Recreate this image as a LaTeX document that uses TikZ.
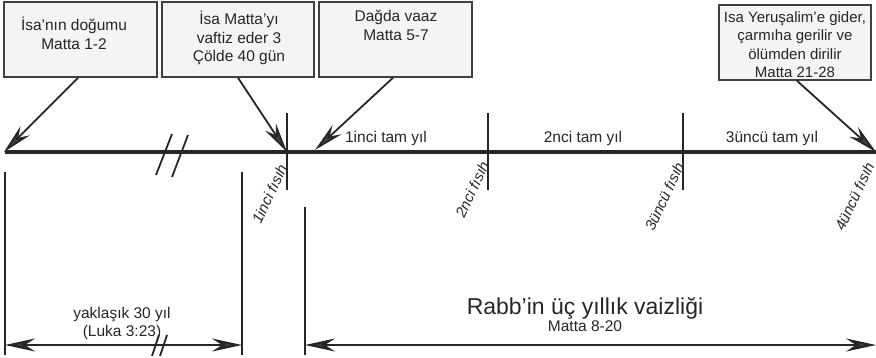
\documentclass[tikz,border=0pt]{standalone}
\usepackage{fontspec}
\setmainfont{Liberation Sans}
\usetikzlibrary{arrows.meta}
\begin{document}
\begin{tikzpicture}[x=1pt,y=-1pt,
  box/.style={draw=black!75, line width=1.6pt, fill=gray!9, inner sep=0pt},
  txt/.style={font=\fontsize{15.5}{18.5}\selectfont, align=center, inner sep=0pt, text=black!85},
  small/.style={font=\fontsize{15}{16}\selectfont\itshape, inner sep=0pt, text=black!85},
  big/.style={font=\fontsize{23}{26}\selectfont, inner sep=0pt, text=black!85},
  tipd/.style={-{Stealth[length=30pt,width=13pt,inset=10pt,fill=black!75]}},
  tipdd/.style={{Stealth[length=30pt,width=13pt,inset=10pt,fill=black!75]}-{Stealth[length=30pt,width=13pt,inset=10pt,fill=black!75]}},
  pointer/.style={tipd, draw=black!85, line width=1.8pt},
  mainline/.style={draw=black!85, line width=4.5pt},
  tick/.style={draw=black!85, line width=1.8pt},
  dim/.style={draw=black!85, line width=2.2pt},
  slash/.style={draw=black!85, line width=1.8pt}]
\useasboundingbox (0,0) rectangle (876,358);

% boxes
\node[box, minimum width=153pt, minimum height=75pt] (b1) at (80.5,39.5) {};
\node[box, minimum width=152pt, minimum height=75pt] (b2) at (238,39.5) {};
\node[box, minimum width=153pt, minimum height=75pt] (b3) at (395.5,39.5) {};
\node[box, minimum width=152pt, minimum height=75pt] (b4) at (795,42.5) {};

\node[txt, anchor=north] (t1) at (74,17) {İsa'nın doğumu\\Matta 1-2};
\node[txt, anchor=north] (t2) at (239,11) {İsa Matta'yı\\vaftiz eder 3\\Çölde 40 gün};
\node[txt, anchor=north] (t3) at (396,10) {Dağda vaaz\\Matta 5-7};
\node[txt, anchor=north, font=\fontsize{15}{18.5}\selectfont] (t4) at (795,11) {Isa Yeruşalim'e gider,\\çarmıha gerilir ve\\ölümden dirilir\\Matta 21-28};

% timeline
\coordinate (L) at (5,152);
\coordinate (R) at (876,152);
\path[mainline] (L) -- (R);

\coordinate (k1t) at (287,113); \coordinate (k1b) at (287,190);
\coordinate (k2t) at (488,113); \coordinate (k2b) at (488,190);
\coordinate (k3t) at (683,113); \coordinate (k3b) at (683,190);
\path[tick] (k1t) -- (k1b);
\path[tick] (k2t) -- (k2b);
\path[tick] (k3t) -- (k3b);

% break on timeline
\coordinate (s1a) at (156,175); \coordinate (s1b) at (172,134);
\coordinate (s2a) at (172,177); \coordinate (s2b) at (188,135);
\path[slash] (s1a) -- (s1b);
\path[slash] (s2a) -- (s2b);

% pointers
\coordinate (p1) at (4,152);
\coordinate (p2) at (287,152);
\coordinate (p3) at (315,150);
\coordinate (p4) at (876,152);
\path[pointer] (b1.south -| 78,0) -- (p1);
\path[pointer] (b2.south) -- (p2);
\path[pointer] (b3.south -| 393,0) -- (p3);
\path[pointer] (b4.south -| 797,0) -- (p4);

% year labels
\node[txt, anchor=base] (y1) at (386,143) {1inci tam yıl};
\node[txt, anchor=base] (y2) at (583,143) {2nci tam yıl};
\node[txt, anchor=base] (y3) at (772,143) {3üncü tam yıl};

% passover labels
\node[small, rotate=65, anchor=east] (f1) at (283,165) {1inci fısıh};
\node[small, rotate=65, anchor=east] (f2) at (485,162) {2nci fısıh};
\node[small, rotate=65, anchor=east] (f3) at (680,163) {3üncü fısıh};
\node[small, rotate=65, anchor=east] (f4) at (870,163) {4üncü fısıh};

% left span
\coordinate (la) at (5,172); \coordinate (lb) at (5,355);
\coordinate (ra) at (242,172); \coordinate (rb) at (242,355);
\path[tick] (la) -- (lb);
\path[tick] (ra) -- (rb);
\coordinate (d1) at (5,345); \coordinate (d2) at (242,345);
\path[dim, tipdd] (d1) -- (d2);
\coordinate (q1a) at (152,356); \coordinate (q1b) at (159,335);
\coordinate (q2a) at (160,356); \coordinate (q2b) at (167,335);
\path[slash] (q1a) -- (q1b);
\path[slash] (q2a) -- (q2b);
\node[txt, anchor=base] (w1) at (122,319) {yaklaşık 30 yıl};
\node[txt, anchor=base] (w2) at (122,337) {(Luka 3:23)};

% right span
\coordinate (m1) at (305,207); \coordinate (m2) at (305,355);
\path[tick] (m1) -- (m2);
\coordinate (e1) at (305,345); \coordinate (e2) at (876,345);
\path[dim, tipdd] (e1) -- (e2);
\node[big, anchor=base] (r1) at (585,315) {Rabb’in üç yıllık vaizliği};
\node[txt, anchor=base] (r2) at (585,331) {Matta 8-20};
\end{tikzpicture}
\end{document}
